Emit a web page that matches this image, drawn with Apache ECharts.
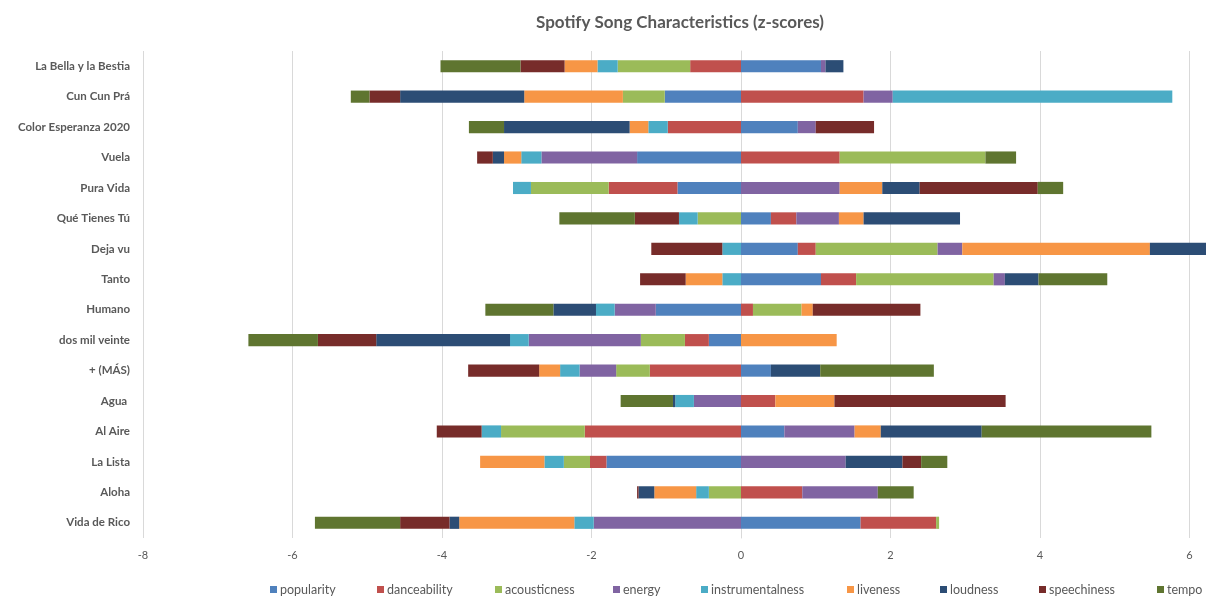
<!DOCTYPE html>
<html>
<head>
<meta charset="utf-8">
<script src="https://cdn.jsdelivr.net/npm/echarts@6/dist/echarts.min.js"></script>
<style>
html,body{margin:0;padding:0;background:#fff;overflow:hidden;}
#chart{width:1360px;height:598px;}
</style>
</head>
<body>
<div id="chart"></div>
<script>
// songs, top to bottom
var songs = ['La Bella y la Bestia','Cun Cun Prá','Color Esperanza 2020','Vuela','Pura Vida','Qué Tienes Tú','Deja vu','Tanto','Humano','dos mil veinte','+ (MÁS)','Agua ','Al Aire','La Lista','Aloha','Vida de Rico'];

var popularity       = [1.07,-1.02,0.76,-1.39,-0.85,0.40,0.76,1.07,-1.14,-0.43,0.40,0,0.58,-1.80,0,1.60];
var danceability     = [-0.68,1.64,-0.98,1.32,-0.92,0.34,0.24,0.47,0.16,-0.32,-1.22,0.46,-2.09,-0.22,0.82,1.01];
var acousticness     = [-0.97,-0.56,0,1.95,-1.04,-0.58,1.63,1.84,0.65,-0.59,-0.45,0,-1.12,-0.35,-0.43,0.04];
var energy           = [0.06,0.39,0.24,-1.28,1.32,0.57,0.33,0.15,-0.55,-1.50,-0.49,-0.63,0.94,1.40,1.01,-1.97];
var instrumentalness = [-0.27,3.74,-0.26,-0.27,-0.24,-0.25,-0.25,-0.25,-0.25,-0.25,-0.26,-0.25,-0.26,-0.26,-0.17,-0.26];
var liveness         = [-0.44,-1.32,-0.25,-0.23,0.57,0.33,2.51,-0.49,0.15,1.28,-0.28,0.79,0.35,-0.86,-0.56,-1.54];
var loudness         = [0.24,-1.66,-1.68,-0.15,0.50,1.29,0.85,0.45,-0.57,-1.79,0.66,-0.03,1.35,0.76,-0.21,-0.13];
var speechiness      = [-0.59,-0.41,0.78,-0.21,1.58,-0.59,-0.95,-0.61,1.44,-0.78,-0.95,2.29,-0.60,0.25,-0.02,-0.66];
var tempo            = [-1.07,-0.25,-0.47,0.41,0.34,-1.01,0,0.92,-0.91,-0.93,1.52,-0.70,2.27,0.35,0.48,-1.14];

var names  = ['popularity','danceability','acousticness','energy','instrumentalness','liveness','loudness','speechiness','tempo'];
var values = [popularity,danceability,acousticness,energy,instrumentalness,liveness,loudness,speechiness,tempo];
var colors = ['#4F81BD','#C0504D','#9BBB59','#8064A2','#4BACC6','#F79646','#2C4D75','#772C2A','#5F7530'];
var legendLeft = [270,377,495,613,701,847,940,1039,1157];

var txt = '#595959';
var font = 'Lato, "Open Sans", sans-serif';

var chart = echarts.init(document.getElementById('chart'));

var series = [];
var legends = [];
for (var i = 0; i < names.length; i++) {
    series.push({
        name: names[i],
        type: 'bar',
        stack: 'z',
        barWidth: '40%',
        itemStyle: {color: colors[i]},
        data: values[i]
    });
    legends.push({
        data: [names[i]],
        left: legendLeft[i],
        top: 583,
        padding: 0,
        itemWidth: 7,
        itemHeight: 7,
        itemGap: 0,
        icon: 'rect',
        textStyle: {color: txt, fontSize: 12.5, fontFamily: font, padding: [0, 0, 0, -2]}
    });
}

chart.setOption({
    animation: false,
    backgroundColor: '#fff',
    title: {
        text: 'Spotify Song Characteristics (z-scores)',
        left: 'center',
        top: 9,
        textStyle: {color: txt, fontSize: 17, fontWeight: 'bold', fontFamily: font}
    },
    legend: legends,
    grid: {left: 143, right: 21, top: 51, bottom: 60},
    xAxis: {
        type: 'value',
        min: -8,
        max: 8,
        interval: 2,
        axisLine: {show: false},
        axisTick: {show: false},
        splitLine: {lineStyle: {color: '#d9d9d9', width: 1}},
        axisLabel: {color: txt, fontSize: 11, fontFamily: font, margin: 12}
    },
    yAxis: {
        type: 'category',
        inverse: true,
        data: songs,
        axisLine: {lineStyle: {color: '#d9d9d9'}},
        axisTick: {show: false},
        axisLabel: {color: txt, fontSize: 11.5, fontWeight: 'bold', fontFamily: font, margin: 13}
    },
    series: series
});
</script>
</body>
</html>
